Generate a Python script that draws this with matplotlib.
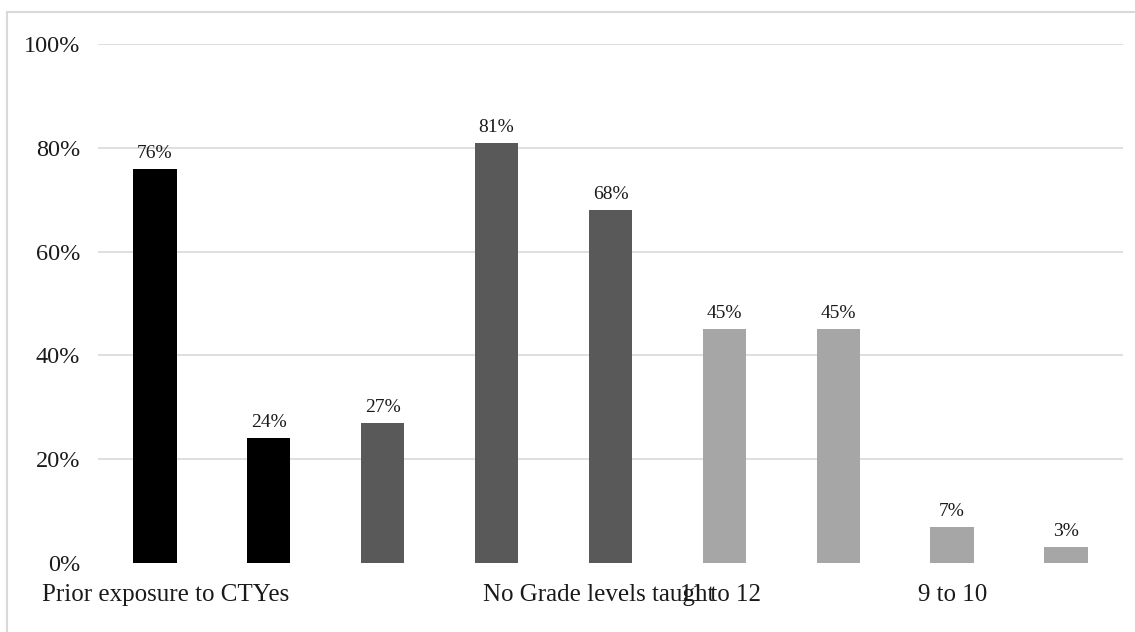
import matplotlib.pyplot as plt
from matplotlib.lines import Line2D

# survey results, one bar per response
values = [76, 24, 27, 81, 68, 45, 45, 7, 3]
bar_colors = ['#000000', '#000000', '#595959', '#595959', '#595959',
              '#a6a6a6', '#a6a6a6', '#a6a6a6', '#a6a6a6']
group_labels = ['Prior exposure to CTYes', 'No Grade levels taught', '11 to 12', '9 to 10']
group_label_pos = [0.09, 3.9, 4.97, 7.0]

plt.rcParams['font.family'] = ['Liberation Serif', 'DejaVu Serif']

fig = plt.figure(figsize=(11.35, 6.32), dpi=100)
ax = fig.add_axes([0.0863, 0.1092, 0.9031, 0.8212])

x = list(range(len(values)))
frac = [v / 100 for v in values]
bars = ax.bar(x, frac, width=0.38, color=bar_colors, zorder=3)

for b, v in zip(bars, values):
    ax.annotate(f'{v}%', (b.get_x() + b.get_width() / 2, b.get_height()),
                xytext=(0, 5), textcoords='offset points',
                ha='center', va='bottom', fontsize=14, color='#1a1a1a')

ax.set_xlim(-0.5, len(values) - 0.5)
ax.set_ylim(0, 1)
yt = [0, 0.2, 0.4, 0.6, 0.8, 1.0]
ax.set_yticks(yt)
ax.set_yticklabels([f'{int(t * 100)}%' for t in yt], fontsize=17.5, color='#1a1a1a')
for t in yt[1:]:
    ax.axhline(t, color='#d9d9d9', linewidth=1.2, zorder=1)

ax.set_xticks(group_label_pos)
ax.set_xticklabels(group_labels, fontsize=18, color='#1a1a1a')
ax.tick_params(axis='both', length=0)
ax.tick_params(axis='y', pad=13)
ax.tick_params(axis='x', pad=15)

for s in ax.spines.values():
    s.set_visible(False)

# outer chart border: top and left edges
x0, y0 = 6.5 / 1135, 1 - 11.5 / 632
fig.lines.append(Line2D([x0, 1], [y0, y0], transform=fig.transFigure,
                        color='#d9d9d9', linewidth=1.5))
fig.lines.append(Line2D([x0, x0], [0, y0], transform=fig.transFigure,
                        color='#d9d9d9', linewidth=1.5))

fig.savefig('out.png', dpi=100)
